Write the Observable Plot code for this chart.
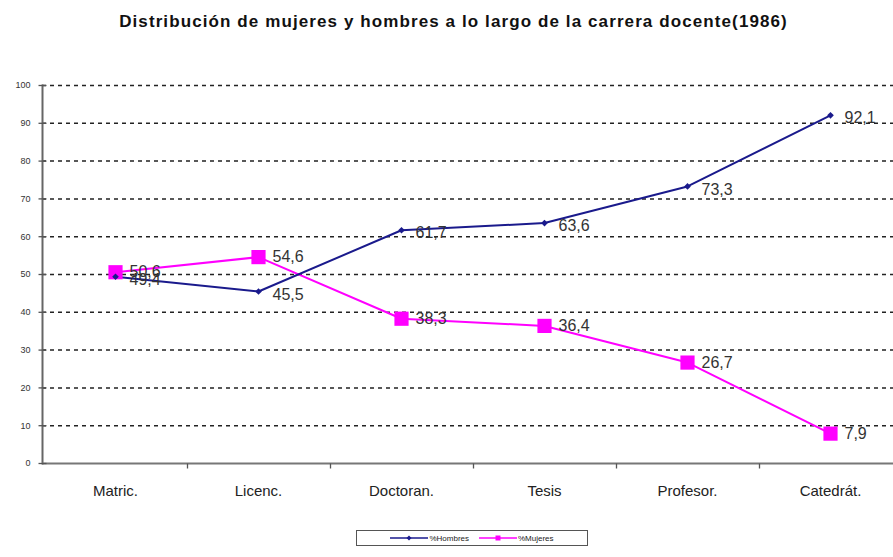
<!DOCTYPE html>
<html><head><meta charset="utf-8">
<script src="https://cdn.jsdelivr.net/npm/d3@7"></script>
<script src="https://cdn.jsdelivr.net/npm/@observablehq/plot@0.6"></script>
<style>
body{margin:0;background:#fff;font-family:"Liberation Sans",Arial,sans-serif;width:893px;height:557px;overflow:hidden;position:relative}
#title{height:70px;padding-top:12px;box-sizing:border-box;text-align:center;font-family:"Liberation Sans",Arial,sans-serif;font-weight:bold;font-size:17px;color:#111;letter-spacing:1.1px;padding-left:14px}
#legend{position:absolute;left:356px;top:530px;width:230px;height:14px;border:1px solid #555;font-size:8px;display:flex;align-items:center;justify-content:center;gap:10px;color:#222}
#legend span{display:flex;align-items:center;gap:1px}
</style></head>
<body>
<div id="title">Distribución de mujeres y hombres a lo largo de la carrera docente(1986)</div>
<div id="chart"></div>
<div id="legend">
<span><svg width="38" height="8"><line x1="0" y1="4" x2="38" y2="4" stroke="#1a1a8c" stroke-width="1.5"/><path d="M19,1.5L21.5,4L19,6.5L16.5,4Z" fill="#1a1a8c"/></svg>%Hombres</span>
<span><svg width="38" height="8"><line x1="0" y1="4" x2="38" y2="4" stroke="#ff00ff" stroke-width="1.5"/><rect x="16.5" y="1.5" width="5" height="5" fill="#ff00ff"/></svg>%Mujeres</span>
</div>
<script>
const categories = ["Matric.","Licenc.","Doctoran.","Tesis","Profesor.","Catedrát."];
const hombres = [49.4,45.5,61.7,63.6,73.3,92.1];
const mujeres = [50.6,54.6,38.3,36.4,26.7,7.9];
const yTicks = [0,10,20,30,40,50,60,70,80,90,100];
const gridTicks = [10,20,30,40,50,60,70,80,90,100];

const fmt = v => String(v).replace(".", ",");
const H = categories.map((c,i)=>({cat:c, v:hombres[i], s:"%Hombres"}));
const M = categories.map((c,i)=>({cat:c, v:mujeres[i], s:"%Mujeres"}));

const hTick = {draw(ctx){ ctx.moveTo(-4,0); ctx.lineTo(4,0); }};
const vTick = {draw(ctx){ ctx.moveTo(0,0); ctx.lineTo(0,5); }};

const chart = Plot.plot({
  width: 893, height: 445,
  marginLeft: 42, marginRight: -10, marginTop: 15, marginBottom: 52,
  style: {fontFamily: "Liberation Sans, Arial, sans-serif", background: "transparent", overflow: "visible"},
  x: {type: "point", domain: categories, padding: 0.5, label: null},
  y: {domain: [0,100], label: null},
  marks: [
    Plot.ruleY(gridTicks, {stroke: "#222", strokeWidth: 1.5, strokeDasharray: "4,4"}),
    Plot.axisY(yTicks, {tickSize: 0, tickPadding: 12, fontSize: 9, fill: "#333", label: null}),
    Plot.frame({anchor: "left", stroke: "#666", strokeWidth: 2}),
    Plot.ruleY([0], {stroke: "#777", strokeWidth: 2}),
    Plot.dot(yTicks, {y: d => d, frameAnchor: "left", symbol: hTick, stroke: "#555", strokeWidth: 1.3, fill: "none"}),
    Plot.dot(categories, {x: d => d, y: [0,0,0,0,0,0], dx: 72, symbol: vTick, stroke: "#555", strokeWidth: 1.3, fill: "none"}),
    Plot.axisX({tickSize: 0, tickPadding: 22, fontSize: 15, fill: "#222", label: null, style: {letterSpacing: "0.6px"}}),
    Plot.line(M, {x: "cat", y: "v", stroke: "#ff00ff", strokeWidth: 2}),
    Plot.line(H, {x: "cat", y: "v", stroke: "#1a1a8c", strokeWidth: 2}),
    Plot.dot(M, {x: "cat", y: "v", symbol: "square", r: 8, fill: "#ff00ff", stroke: "none"}),
    Plot.dot(H, {x: "cat", y: "v", symbol: "diamond2", r: 3, fill: "#1a1a8c", stroke: "none"}),
    Plot.text(M, {x: "cat", y: "v", text: d => fmt(d.v), dx: 14, textAnchor: "start", fontSize: 16, fill: "#333"}),
    Plot.text(H, {x: "cat", y: "v", text: d => fmt(d.v), dx: 14, dy: 3, textAnchor: "start", fontSize: 16, fill: "#333"})
  ]
});
document.getElementById("chart").appendChild(chart);
</script>
</body></html>
